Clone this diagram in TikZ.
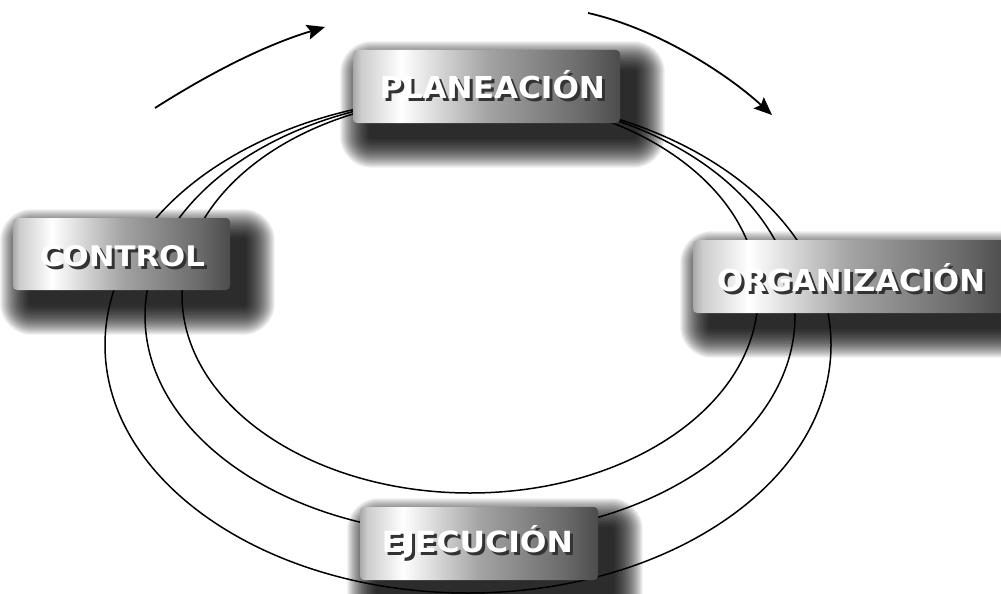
\documentclass[tikz,border=0pt]{standalone}
\usepackage{fontspec}
\setmainfont{DejaVu Sans}
\usetikzlibrary{arrows.meta}
\definecolor{bA}{HTML}{A8A8A8}
\definecolor{bB}{HTML}{CCCCCC}
\definecolor{bC}{HTML}{A4A4A4}
\definecolor{bD}{HTML}{6A6A6A}
\definecolor{bE}{HTML}{4C4C4C}
\pgfdeclarehorizontalshading{boxshade}{100bp}{color(0bp)=(bA); color(25bp)=(bA); color(26.5bp)=(bB); color(34bp)=(white); color(50bp)=(bC); color(68bp)=(bD); color(75bp)=(bE); color(100bp)=(bE)}
\pgfdeclarelayer{shad}
\pgfdeclarelayer{lines}
\pgfsetlayers{shad,lines,main}
\tikzset{
  box/.style={rounded corners=4pt, shading=boxshade, draw=none, inner sep=0pt},
  ring/.style={line width=1.5pt, black},
  flow/.style={line width=1.8pt, black, -{Stealth[length=18pt,width=15pt,inset=3pt]}},
  lbltxt/.style={inner sep=0pt, text=white}
}
% name, x, y, text, width, height
\newcommand\boxlabel[6]{%
  \node[lbltxt] (#1) at (#2,#3) {\makebox[0pt][l]{\hspace{3pt}\raisebox{-3pt}{\textcolor{black!80}{\resizebox{#5pt}{#6pt}{\bfseries #4}}}}\resizebox{#5pt}{#6pt}{\bfseries #4}};
}
% node name
\newcommand\boxshadow[1]{%
  \begin{pgfonlayer}{shad}
  \foreach \i [evaluate=\i as \r using 3+1.5*\i, evaluate=\i as \e using 1.5*\i] in {0,...,19}{
    \fill[black, opacity=0.08, rounded corners=\r pt]
      ([shift={(16-\e,20-\e)}]#1.north west) rectangle ([shift={(16+\e,16+\e)}]#1.south east);
  }
  \end{pgfonlayer}
}
\begin{document}
\begin{tikzpicture}[x=1pt,y=-1pt]
\useasboundingbox (0,0) rectangle (1001,594);
\begin{pgfonlayer}{shad}
\fill[white] (0,0) rectangle (1001,594);
\end{pgfonlayer}

% boxes
\node[box, minimum width=267pt, minimum height=73pt] (plan) at (486.5,86.5) {};
\node[box, minimum width=217pt, minimum height=72pt] (ctrl) at (121.5,254) {};
\node[box, minimum width=312pt, minimum height=73pt] (orga) at (849,276.5) {};
\node[box, minimum width=238pt, minimum height=73pt] (ejec) at (479,543.5) {};

\boxshadow{plan}
\boxshadow{ctrl}
\boxshadow{orga}
\boxshadow{ejec}

% labels
\boxlabel{planT}{492.5}{86}{PLANEACIÓN}{225}{28}
\boxlabel{ctrlT}{122.5}{257.5}{CONTROL}{165}{21}
\boxlabel{orgaT}{851}{279}{ORGANIZACIÓN}{268}{28}
\boxlabel{ejecT}{477.5}{543.5}{EJECUCIÓN}{191}{27}

% rings
\begin{pgfonlayer}{lines}
\draw[ring] (468,345) ellipse [x radius=363, y radius=248];
\draw[ring] (470,316) ellipse [x radius=325, y radius=219];
\draw[ring] (470,295) ellipse [x radius=288, y radius=198];
\end{pgfonlayer}

% flow arrows
\coordinate (a1s) at (155,108);
\coordinate (a1e) at (325,27);
\coordinate (a2s) at (588,13);
\coordinate (a2e) at (772,115);
\draw[flow] (a1s) .. controls (210,73) and (265,45) .. (a1e);
\draw[flow] (a2s) .. controls (655,28) and (725,72) .. (a2e);
\end{tikzpicture}
\end{document}
